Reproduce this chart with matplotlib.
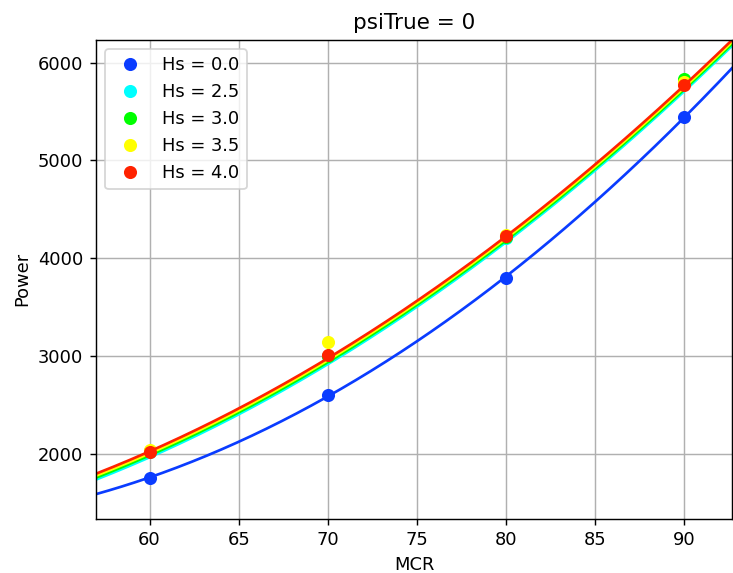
import numpy as np
import matplotlib
matplotlib.use("Agg")
import matplotlib.pyplot as plt

# measured points
mcr = [60, 70, 80, 90]
hs_labels = ["Hs = 0.0", "Hs = 2.5", "Hs = 3.0", "Hs = 3.5", "Hs = 4.0"]
power_hs00 = [1755, 2604, 3800, 5448]
power_hs25 = [2020, 3000, 4210, 5790]
power_hs30 = [2030, 3005, 4220, 5830]
power_hs35 = [2040, 3145, 4240, 5800]
power_hs40 = [2020, 3013, 4230, 5775]
points = [power_hs00, power_hs25, power_hs30, power_hs35, power_hs40]

# fitted curves
curve_mcr = [57, 60, 65, 70, 75, 80, 85, 90, 92.75]
curve_hs00 = [1589, 1760, 2124, 2588, 3152, 3816, 4580, 5442, 5960]
curve_hs25 = [1738, 1965, 2404, 2920, 3505, 4165, 4900, 5710, 6187]
curve_hs30 = [1758, 1985, 2424, 2940, 3525, 4185, 4920, 5730, 6207]
curve_hs35 = [1778, 2005, 2444, 2960, 3545, 4205, 4940, 5750, 6227]
curve_hs40 = [1798, 2025, 2464, 2980, 3565, 4225, 4960, 5770, 6247]
curves = [curve_hs00, curve_hs25, curve_hs30, curve_hs35, curve_hs40]

colors = ["#0a3cff", "#00ffff", "#00ff00", "#ffff00", "#ff2200"]

dpi = 129
fig = plt.figure(figsize=(733 / dpi, 573 / dpi), dpi=dpi)
ax = fig.add_axes([0.131, 0.0948, 0.8675, 0.8354])
ax.grid(True)
ax.set_axisbelow(True)

xs = np.linspace(min(curve_mcr), max(curve_mcr), 300)
for lab, ys, cy, c in zip(hs_labels, points, curves, colors):
    ax.plot(mcr, ys, "o", color=c, markersize=6.3, label=lab)
    coef = np.polyfit(curve_mcr, cy, 2)   # smooth the read-off curve samples
    ax.plot(xs, np.polyval(coef, xs), "-", color=c, linewidth=1.5)

ax.set_xlim(57.0, 92.66)
ax.set_ylim(1338, 6232)
ax.set_xticks([60, 65, 70, 75, 80, 85, 90])
ax.set_yticks([2000, 3000, 4000, 5000, 6000])
ax.set_xlabel("MCR")
ax.set_ylabel("Power")
ax.set_title("psiTrue = 0")
ax.legend(loc="upper left")
fig.savefig("out.png", dpi=dpi)
